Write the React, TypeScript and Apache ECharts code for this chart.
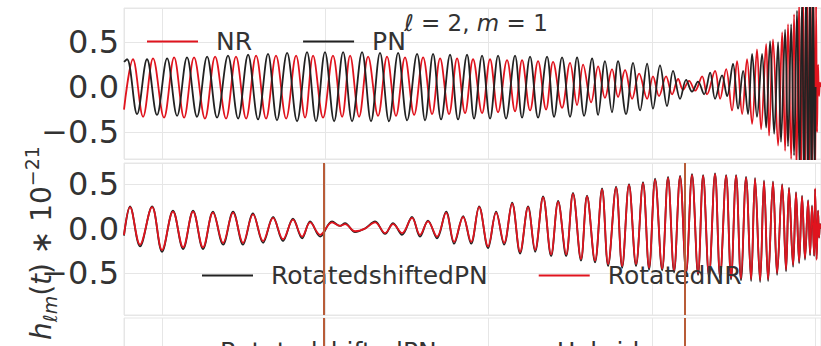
import React, { useEffect, useRef } from 'react';
import * as echarts from 'echarts';

// ---------- data (time in arbitrary units, strain in units of 1e-21) ----------
const tRange = [-233, 4036];
const matchWindow = [993, 3200];
const yTicks = [-0.5, 0, 0.5];
const yTickLabels = ['\u22120.5', '0.0', '0.5'];
const topRange = [-0.8, 0.88];
const midRange = [-0.97, 0.736];

// top panel: NR (red) and PN (black) extrema
const nrTop: number[][] = [
  [-233, -0.25], [-178, 0.31], [-116, -0.33], [-55, 0.32], [12, -0.34], [74, 0.33], [135, -0.34], [196, 0.33],
  [263, -0.35], [325, 0.34], [392, -0.35], [453, 0.34], [515, -0.35], [576, 0.35], [637, -0.35], [698, 0.35],
  [760, -0.35], [821, 0.35], [876, -0.34], [925, 0.35], [986, -0.34], [1047, 0.35], [1103, -0.33], [1152, 0.35],
  [1207, -0.33], [1262, 0.34], [1323, -0.32], [1378, 0.34], [1433, -0.32], [1488, 0.33], [1544, -0.31], [1599, 0.33],
  [1654, -0.30], [1703, 0.32], [1758, -0.30], [1807, 0.32], [1856, -0.29], [1905, 0.31], [1960, -0.29], [2009, 0.31],
  [2058, -0.28], [2113, 0.30], [2162, -0.27], [2205, 0.30], [2254, -0.26], [2303, 0.29], [2352, -0.25], [2395, 0.28],
  [2450, -0.23], [2499, 0.27], [2542, -0.20], [2579, 0.25], [2628, -0.17], [2671, 0.23], [2713, -0.12], [2756, 0.20],
  [2793, -0.11], [2836, 0.19], [2879, -0.13], [2922, 0.15], [2971, -0.13], [3007, 0.12], [3044, -0.10], [3087, 0.12],
  [3124, -0.08], [3161, 0.09], [3191, -0.03], [3228, 0.07], [3265, -0.04], [3308, 0.12], [3338, -0.08], [3387, 0.18],
  [3418, -0.13], [3455, 0.20], [3491, -0.26], [3522, 0.29], [3553, -0.30], [3583, 0.31], [3614, -0.41], [3644, 0.42],
  [3669, -0.47], [3700, 0.48], [3718, -0.54], [3742, 0.53], [3773, -0.65], [3798, 0.61], [3816, -0.71], [3834, 0.70],
  [3853, -0.80], [3871, 0.81], [3886, -0.90], [3902, 0.95], [3914, -1.05], [3926, 1.1], [3938, -1.2], [3951, 1.2],
  [3963, -1.2], [3972, 1.2], [3981, -1.2], [3990, 1.1], [4000, -1.1], [4006, 0.9], [4012, -0.5], [4018, 0.25],
  [4024, -0.1], [4030, 0.05], [4036, 0.0],
];

const pnTop: number[][] = [
  [-233, 0.28], [-214, 0.31], [-153, -0.30], [-92, 0.31], [-31, -0.31], [31, 0.32], [92, -0.32], [153, 0.33],
  [214, -0.33], [276, 0.34], [337, -0.34], [404, 0.35], [466, -0.35], [527, 0.36], [588, -0.36], [649, 0.37],
  [704, -0.37], [766, 0.38], [827, -0.38], [888, 0.39], [943, -0.38], [998, 0.39], [1054, -0.38], [1109, 0.39],
  [1164, -0.38], [1225, 0.39], [1280, -0.38], [1335, 0.38], [1390, -0.38], [1446, 0.38], [1501, -0.37], [1562, 0.37],
  [1611, -0.37], [1660, 0.37], [1709, -0.36], [1764, 0.36], [1813, -0.36], [1868, 0.36], [1911, -0.35], [1960, 0.35],
  [2009, -0.35], [2058, 0.35], [2107, -0.35], [2162, 0.35], [2205, -0.34], [2254, 0.34], [2303, -0.34], [2358, 0.34],
  [2401, -0.33], [2450, 0.33], [2499, -0.33], [2542, 0.33], [2585, -0.32], [2634, 0.32], [2671, -0.31], [2713, 0.29],
  [2756, -0.28], [2793, 0.29], [2842, -0.30], [2885, 0.27], [2928, -0.26], [2971, 0.26], [3007, -0.24], [3050, 0.24],
  [3093, -0.21], [3130, 0.18], [3173, -0.13], [3210, 0.08], [3246, -0.05], [3283, 0.06], [3320, -0.08], [3357, 0.16],
  [3387, -0.13], [3430, 0.13], [3461, -0.10], [3497, 0.26], [3528, -0.24], [3559, 0.18], [3589, -0.30], [3614, 0.37],
  [3644, -0.33], [3675, 0.37], [3700, -0.45], [3724, 0.51], [3749, -0.52], [3773, 0.50], [3791, -0.61], [3816, 0.64],
  [3834, -0.66], [3853, 0.70], [3871, -0.76], [3889, 0.85], [3905, -0.90], [3920, 1.0], [3932, -1.1], [3945, 1.15],
  [3957, -1.2], [3969, 1.2], [3978, -1.2], [3987, 1.2], [3997, -1.0], [4003, 0.0],
];

// middle panel: rotated waveforms (shared times)
const tMid = [
  -233, -196, -135, -61, 0, 67, 129, 190, 251, 312, 374, 435, 496, 557, 619, 680, 741, 802, 858, 907,
  968, 1041, 1090, 1121, 1182, 1243, 1305, 1366, 1415, 1470, 1531, 1580, 1629, 1684, 1740, 1789, 1844, 1893, 1942, 1997,
  2046, 2095, 2144, 2193, 2242, 2285, 2334, 2383, 2426, 2475, 2517, 2566, 2603, 2652, 2695, 2732, 2781, 2818, 2860, 2903,
  2946, 2983, 3020, 3063, 3099, 3136, 3173, 3210, 3246, 3283, 3314, 3350, 3387, 3418, 3455, 3485, 3516, 3546, 3577, 3608,
  3632, 3663, 3687, 3712, 3742, 3767, 3798, 3822, 3840, 3865, 3883, 3902, 3920, 3938, 3957, 3969, 3981, 3994, 4000, 4009,
  4018, 4024, 4030, 4036,
];
const rotatedNR = [
  -0.07, 0.24, -0.18, 0.24, -0.24, 0.19, -0.21, 0.19, -0.21, 0.18, -0.16, 0.18, -0.16, 0.16, -0.14, 0.12, -0.12, 0.10, -0.09, 0.07,
  -0.07, 0.07, 0.03, 0.05, -0.03, 0.00, 0.07, -0.05, 0.05, -0.05, 0.12, -0.07, 0.08, -0.09, 0.18, -0.15, 0.13, -0.15, 0.24, -0.20,
  0.18, -0.16, 0.28, -0.26, 0.24, -0.24, 0.35, -0.29, 0.30, -0.29, 0.39, -0.34, 0.36, -0.36, 0.44, -0.40, 0.46, -0.42, 0.49, -0.40,
  0.51, -0.44, 0.55, -0.45, 0.57, -0.47, 0.58, -0.48, 0.60, -0.50, 0.59, -0.52, 0.61, -0.53, 0.59, -0.55, 0.59, -0.56, 0.57, -0.57,
  0.56, -0.58, 0.53, -0.57, 0.52, -0.50, 0.49, -0.46, 0.45, -0.41, 0.40, -0.37, 0.36, -0.33, 0.31, -0.28, 0.25, -0.30, 0.45, -0.35,
  0.20, -0.10, 0.05, 0.00,
];
const rotatedShiftedPN = [
  -0.08, 0.25, -0.20, 0.25, -0.26, 0.20, -0.23, 0.20, -0.23, 0.19, -0.18, 0.19, -0.18, 0.17, -0.16, 0.13, -0.14, 0.11, -0.11, 0.08,
  -0.09, 0.08, 0.03, 0.06, -0.04, 0.00, 0.08, -0.06, 0.06, -0.07, 0.13, -0.09, 0.09, -0.11, 0.19, -0.17, 0.14, -0.17, 0.25, -0.22,
  0.19, -0.18, 0.29, -0.28, 0.25, -0.26, 0.36, -0.31, 0.31, -0.31, 0.40, -0.36, 0.37, -0.38, 0.45, -0.42, 0.47, -0.44, 0.50, -0.42,
  0.52, -0.46, 0.56, -0.47, 0.58, -0.49, 0.59, -0.50, 0.61, -0.52, 0.60, -0.54, 0.62, -0.55, 0.60, -0.57, 0.60, -0.58, 0.58, -0.59,
  0.57, -0.60, 0.54, -0.59, 0.53, -0.52, 0.50, -0.48, 0.46, -0.43, 0.41, -0.39, 0.37, -0.35, 0.32, -0.30, 0.26, -0.31, 0.44, -0.34,
  0.20, -0.10, 0.05, 0.00,
];

const titleText = '{i|\u2113} = 2, {i|m} = 1';
const yLabelText = '{i|h}{sub|\u2113m}{n|(}{i|t}{n|) \u2217 10}{sup|\u221221}';

// ---------- styles ----------
const RED = '#e0141e';
const BLACK = '#222222';
const GRIDC = '#e6e6e6';
const BROWN = '#b85c38';
const TXT = '#333333';
const FONT = 'DejaVu Sans';

const tickFormatter = (v: number) => {
  const i = yTicks.findIndex((t) => Math.abs(t - v) < 1e-6);
  return i >= 0 ? yTickLabels[i] : '';
};

const xAxisFor = (gridIndex: number) => ({
  type: 'value',
  gridIndex,
  min: tRange[0],
  max: tRange[1],
  splitNumber: 4,
  axisLabel: { show: false },
  axisTick: { show: false },
  axisLine: { show: false },
  splitLine: { show: true, lineStyle: { color: GRIDC, width: 1 } },
});

const yAxisFor = (gridIndex: number, range: number[]) => ({
  type: 'value',
  gridIndex,
  min: range[0],
  max: range[1],
  splitNumber: 3,
  axisLine: { show: false },
  axisTick: { show: false },
  splitLine: { show: true, lineStyle: { color: GRIDC, width: 1 } },
  axisLabel: { fontSize: 32, color: TXT, fontFamily: FONT, margin: 5, formatter: tickFormatter },
});

const legendFor = (data: string[], left: number, top: number) => ({
  data,
  left,
  top,
  padding: 0,
  orient: 'horizontal',
  icon: 'rect',
  itemWidth: 51,
  itemHeight: 2,
  itemGap: 51,
  selectedMode: false,
  textStyle: { fontSize: 25, color: TXT, fontFamily: FONT, padding: [0, 0, 0, 13] },
});

const lineSeries = (name: string, data: number[][], color: string, idx: number, extra: any = {}) => ({
  name,
  type: 'line',
  xAxisIndex: idx,
  yAxisIndex: idx,
  data,
  color,
  symbol: 'none',
  showSymbol: false,
  smooth: 0.36,
  lineStyle: { width: 1.8, color },
  emphasis: { disabled: true },
  ...extra,
});

const markLines = {
  markLine: {
    silent: true,
    symbol: ['none', 'none'],
    label: { show: false },
    lineStyle: { color: BROWN, width: 2, type: 'solid' },
    data: matchWindow.map((t) => ({ xAxis: t })),
  },
};

const option = {
  animation: false,
  backgroundColor: '#ffffff',
  textStyle: { fontFamily: FONT },
  grid: [
    { left: 124, top: 8, width: 697, height: 151, show: true, borderColor: GRIDC, borderWidth: 1 },
    { left: 124, top: 163, width: 697, height: 152, show: true, borderColor: GRIDC, borderWidth: 1 },
    { left: 124, top: 318, width: 697, height: 200, show: true, borderColor: GRIDC, borderWidth: 1 },
  ],
  xAxis: [xAxisFor(0), xAxisFor(1), xAxisFor(2)],
  yAxis: [
    yAxisFor(0, topRange),
    yAxisFor(1, midRange),
    { type: 'value', gridIndex: 2, min: -1, max: 1, axisLabel: { show: false }, axisTick: { show: false }, axisLine: { show: false }, splitLine: { show: false } },
  ],
  legend: [
    legendFor(['NR', 'PN'], 147, 29),
    legendFor(['RotatedshiftedPN', 'RotatedNR'], 202, 263),
    legendFor(['RotatedshiftedPN', 'Hybrid'], 151, 339),
  ],
  series: [
    lineSeries('NR', nrTop, RED, 0),
    lineSeries('PN', pnTop, BLACK, 0),
    lineSeries('RotatedshiftedPN', tMid.map((t, i) => [t, rotatedShiftedPN[i]]), BLACK, 1),
    lineSeries('RotatedNR', tMid.map((t, i) => [t, rotatedNR[i]]), RED, 1, markLines),
    lineSeries('Hybrid', [], '#1f77b4', 2, markLines),
  ],
  graphic: [
    {
      type: 'text',
      x: 476,
      y: 23,
      z: 100,
      style: {
        text: titleText,
        fontSize: 23,
        fontFamily: FONT,
        fill: TXT,
        align: 'center',
        verticalAlign: 'middle',
        rich: { i: { fontSize: 23, fontStyle: 'italic', fontFamily: FONT, fill: TXT } },
      },
    },
    {
      type: 'text',
      x: 41,
      y: 243,
      rotation: Math.PI / 2,
      z: 100,
      style: {
        text: yLabelText,
        fontSize: 28,
        fontFamily: FONT,
        fill: TXT,
        align: 'center',
        verticalAlign: 'middle',
        rich: {
          n: { fontSize: 28, fontFamily: FONT, fill: TXT, lineHeight: 37 },
          i: { fontSize: 28, fontStyle: 'italic', fontFamily: FONT, fill: TXT, lineHeight: 37 },
          sub: { fontSize: 19, fontStyle: 'italic', fontFamily: FONT, fill: TXT, lineHeight: 21, verticalAlign: 'bottom' },
          sup: { fontSize: 19, fontFamily: FONT, fill: TXT, lineHeight: 19, verticalAlign: 'top' },
        },
      },
    },
  ],
};

export default function App() {
  const ref = useRef<HTMLDivElement>(null);
  useEffect(() => {
    if (!ref.current) return;
    const chart = echarts.init(ref.current, null, { renderer: 'svg' });
    chart.setOption(option as any);
    return () => chart.dispose();
  }, []);
  return (
    <div
      ref={ref}
      style={{ position: 'fixed', left: 0, top: 0, width: 821, height: 346, background: '#fff', overflow: 'hidden' }}
    />
  );
}
